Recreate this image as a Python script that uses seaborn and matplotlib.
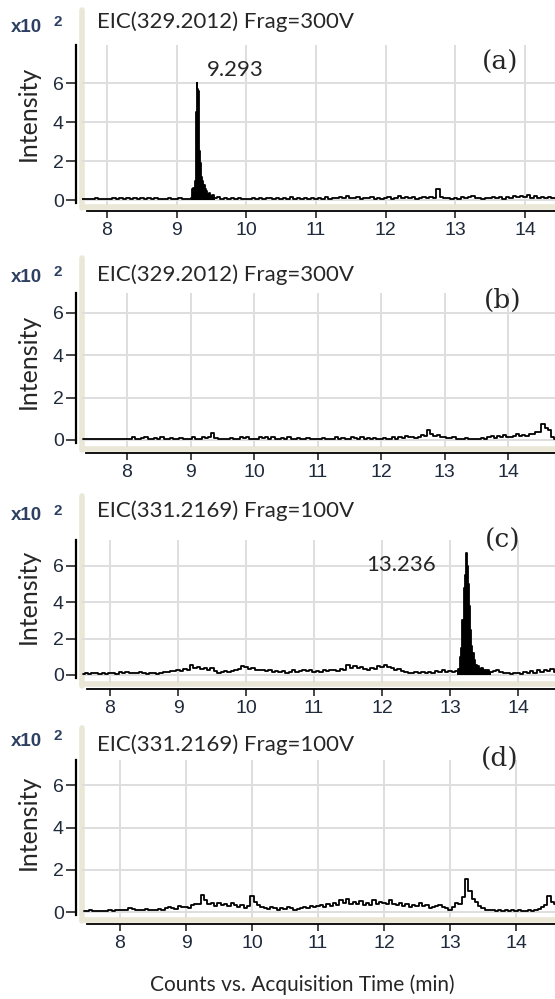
import numpy as np
import pandas as pd
import matplotlib
matplotlib.use("Agg")
import matplotlib.pyplot as plt
import seaborn as sns

# EIC traces, intensity in x10^2 counts, sampled every 0.05 min from the start time
start_a = 7.60
base_a = [0.04, 0.05, 0.03, 0.05, 0.04, 0.12, 0.04, 0.03,
          0.04, 0.03, 0.08, 0.05, 0.11, 0.06, 0.12, 0.05, 0.09, 0.05, 0.11, 0.06, 0.09, 0.04, 0.12, 0.05, 0.07, 0.04, 0.09, 0.05,
          0.04, 0.09, 0.05, 0.04, 0.07, 0.50, 5.80, 0.90, 0.50, 0.35, 0.22, 0.12, 0.16, 0.07, 0.11, 0.05, 0.09, 0.04, 0.08, 0.05,
          0.06, 0.04, 0.10, 0.05, 0.12, 0.04, 0.08, 0.12, 0.05, 0.09, 0.04, 0.10, 0.06, 0.13, 0.05, 0.08, 0.04, 0.11, 0.06, 0.09,
          0.05, 0.10, 0.07, 0.14, 0.05, 0.11, 0.08, 0.16, 0.10, 0.18, 0.12, 0.08, 0.15, 0.06, 0.12, 0.09, 0.17, 0.07, 0.10, 0.05,
          0.09, 0.14, 0.06, 0.12, 0.18, 0.10, 0.15, 0.08, 0.13, 0.07, 0.11, 0.15, 0.10, 0.17, 0.12, 0.58, 0.14, 0.08, 0.12, 0.06,
          0.10, 0.07, 0.14, 0.09, 0.13, 0.18, 0.08, 0.12, 0.06, 0.10, 0.08, 0.15, 0.09, 0.13, 0.07, 0.16, 0.11, 0.19, 0.14, 0.22,
          0.15, 0.24, 0.12, 0.19, 0.10, 0.17, 0.08, 0.14, 0.09, 0.12]
peak_t_a = [9.20, 9.22, 9.23, 9.25, 9.27, 9.28, 9.29, 9.30, 9.31, 9.32, 9.33, 9.34, 9.35, 9.37, 9.39, 9.41, 9.43, 9.45, 9.47, 9.49, 9.52, 9.55]
peak_i_a = [0.06, 0.10, 0.55, 0.60, 1.00, 4.50, 6.00, 5.70, 5.60, 2.60, 2.50, 1.90, 1.20, 0.95, 0.75, 0.55, 0.45, 0.30, 0.35, 0.20, 0.25, 0.12]

start_b = 7.30
base_b = [0.03, 0.05, 0.04, 0.03, 0.06, 0.04, 0.05, 0.03, 0.04, 0.06, 0.03, 0.05, 0.04, 0.03,
          0.05, 0.04, 0.12, 0.04, 0.03, 0.08, 0.13, 0.05, 0.04, 0.10, 0.06, 0.12, 0.05, 0.04, 0.09, 0.05, 0.03, 0.11, 0.06, 0.04,
          0.05, 0.12, 0.04, 0.06, 0.13, 0.08, 0.14, 0.35, 0.08, 0.04, 0.06, 0.03, 0.05, 0.11, 0.05, 0.04, 0.15, 0.08, 0.12, 0.06,
          0.05, 0.04, 0.14, 0.10, 0.16, 0.06, 0.12, 0.05, 0.04, 0.10, 0.06, 0.13, 0.05, 0.04, 0.08, 0.05, 0.03, 0.10, 0.06, 0.05,
          0.06, 0.05, 0.10, 0.04, 0.03, 0.06, 0.13, 0.05, 0.08, 0.06, 0.04, 0.15, 0.10, 0.06, 0.12, 0.05, 0.08, 0.04, 0.11, 0.06,
          0.05, 0.10, 0.06, 0.04, 0.12, 0.07, 0.15, 0.09, 0.18, 0.12, 0.16, 0.10, 0.14, 0.25, 0.20, 0.48, 0.28, 0.20, 0.25, 0.12,
          0.15, 0.08, 0.10, 0.12, 0.05, 0.06, 0.04, 0.08, 0.05, 0.04, 0.06, 0.03, 0.10, 0.06, 0.12, 0.18, 0.10, 0.20, 0.14, 0.22,
          0.16, 0.12, 0.20, 0.26, 0.18, 0.25, 0.20, 0.30, 0.28, 0.40, 0.38, 0.75, 0.55, 0.45, 0.15, 0.05]
peak_t_b = []
peak_i_b = []

start_c = 7.60
base_c = [0.08, 0.10, 0.06, 0.12, 0.09, 0.07, 0.11, 0.08,
          0.10, 0.13, 0.08, 0.15, 0.10, 0.14, 0.12, 0.09, 0.13, 0.18, 0.11, 0.08, 0.12, 0.10, 0.07, 0.12, 0.18, 0.14, 0.22, 0.20,
          0.25, 0.20, 0.32, 0.28, 0.55, 0.40, 0.45, 0.35, 0.40, 0.30, 0.38, 0.20, 0.12, 0.18, 0.22, 0.15, 0.20, 0.28, 0.35, 0.50,
          0.45, 0.35, 0.40, 0.30, 0.25, 0.30, 0.20, 0.28, 0.18, 0.22, 0.15, 0.20, 0.12, 0.18, 0.25, 0.15, 0.22, 0.30, 0.20, 0.25,
          0.18, 0.22, 0.15, 0.28, 0.20, 0.30, 0.25, 0.22, 0.35, 0.28, 0.55, 0.40, 0.50, 0.38, 0.45, 0.32, 0.28, 0.40, 0.35, 0.50,
          0.42, 0.55, 0.45, 0.38, 0.30, 0.35, 0.20, 0.15, 0.12, 0.10, 0.15, 0.12, 0.18, 0.10, 0.15, 0.12, 0.20, 0.15, 0.25, 0.18,
          0.20, 0.15, 0.22, 0.18, 0.25, 0.20, 0.50, 0.50, 0.50, 0.50, 0.50, 0.50, 0.25, 0.22, 0.28, 0.15, 0.12, 0.10, 0.08, 0.12,
          0.10, 0.08, 0.15, 0.10, 0.20, 0.12, 0.25, 0.18, 0.30, 0.22, 0.35, 0.15]
peak_t_c = [13.10, 13.13, 13.15, 13.17, 13.19, 13.21, 13.22, 13.24, 13.25, 13.27, 13.28, 13.30, 13.32, 13.34, 13.36, 13.38,
            13.41, 13.44, 13.47, 13.50, 13.55, 13.60]
peak_i_c = [0.20, 0.35, 1.00, 1.50, 3.00, 4.80, 5.50, 6.70, 6.00, 5.00, 3.80, 2.50, 1.60, 1.20, 0.80, 0.55,
            0.50, 0.35, 0.40, 0.25, 0.30, 0.18]

start_d = 7.45
base_d = [0.06, 0.05, 0.08, 0.06, 0.05, 0.07, 0.06, 0.05, 0.08, 0.06, 0.10,
          0.10, 0.12, 0.10, 0.18, 0.15, 0.12, 0.10, 0.08, 0.15, 0.10, 0.12, 0.08, 0.15, 0.10, 0.18, 0.25, 0.20, 0.15, 0.28, 0.22,
          0.25, 0.20, 0.32, 0.38, 0.40, 0.80, 0.55, 0.38, 0.42, 0.30, 0.45, 0.35, 0.40, 0.30, 0.42, 0.32, 0.25, 0.35, 0.20, 0.30,
          0.75, 0.50, 0.35, 0.25, 0.20, 0.15, 0.22, 0.18, 0.12, 0.20, 0.15, 0.25, 0.18, 0.12, 0.15, 0.20, 0.25, 0.18, 0.30, 0.22,
          0.28, 0.35, 0.25, 0.40, 0.30, 0.45, 0.35, 0.55, 0.42, 0.60, 0.38, 0.48, 0.40, 0.52, 0.35, 0.45, 0.32, 0.55, 0.40, 0.50,
          0.45, 0.38, 0.55, 0.40, 0.35, 0.45, 0.30, 0.40, 0.25, 0.35, 0.30, 0.42, 0.28, 0.35, 0.20, 0.25, 0.30, 0.35, 0.25, 0.18,
          0.10, 0.25, 0.45, 0.40, 0.70, 1.55, 1.00, 0.60, 0.50, 0.30, 0.20, 0.12, 0.08, 0.10, 0.06, 0.08, 0.05, 0.10, 0.06, 0.08,
          0.05, 0.08, 0.06, 0.05, 0.10, 0.06, 0.08, 0.15, 0.25, 0.35, 0.75, 0.50, 0.40]
peak_t_d = []
peak_i_d = []

titles = ["EIC(329.2012) Frag=300V", "EIC(329.2012) Frag=300V",
          "EIC(331.2169) Frag=100V", "EIC(331.2169) Frag=100V"]
tags = ["(a)", "(b)", "(c)", "(d)"]
peak_labels = ["9.293", "", "13.236", ""]
x_ticks = [8, 9, 10, 11, 12, 13, 14]
y_ticks = [0, 2, 4, 6]


def make_trace(start, base, pt, pi):
    t = start + 0.05 * np.arange(len(base))
    v = np.array(base)
    if len(pt):
        keep = (t < min(pt)) | (t > max(pt))
        t = np.r_[t[keep], pt]
        v = np.r_[v[keep], pi]
    return pd.DataFrame({"time": t, "intensity": v}).sort_values("time")


sns.set_style("whitegrid", {"grid.color": "#dedede", "axes.edgecolor": "black"})
plt.rcParams["font.family"] = ["Lato", "DejaVu Sans"]

W, H = 555, 999
fig = plt.figure(figsize=(W / 100, H / 100), dpi=100)

# axes boxes in pixels: (top, bottom), plus x/y limits per panel
boxes = [(45, 205), (293, 447), (540, 683), (760, 918)]
xlims = [(7.641, 14.43), (7.291, 14.74), (7.588, 14.544), (7.424, 14.59)]
ylims = [(-0.256, 7.95), (-0.33, 6.93), (-0.44, 7.42), (-0.28, 7.2)]
beige_ext = [0.22, 0.23, 0.31, 0.2]
title_y = [22, 275, 511, 745]
x10_y = [27, 277, 516, 741]
tag_pos = [(500, 62), (503, 300), (503, 540), (500, 758)]
ylab_y = [113, 361, 596, 822]

traces = [make_trace(start_a, base_a, peak_t_a, peak_i_a),
          make_trace(start_b, base_b, peak_t_b, peak_i_b),
          make_trace(start_c, base_c, peak_t_c, peak_i_c),
          make_trace(start_d, base_d, peak_t_d, peak_i_d)]
peaks = [(peak_t_a, peak_i_a), (peak_t_b, peak_i_b), (peak_t_c, peak_i_c), (peak_t_d, peak_i_d)]

left = 82
tick_col = "#1f2a3c"
for k in range(4):
    top, bot = boxes[k]
    ax = fig.add_axes([left / W, 1 - bot / H, (W - left) / W, (bot - top) / H])
    df = traces[k]
    sns.lineplot(data=df, x="time", y="intensity", ax=ax, color="black", lw=1.3,
                 drawstyle="steps-mid", estimator=None)
    pt, pi = peaks[k]
    if len(pt):
        ax.fill_between(pt, pi, 0, step="mid", color="black", lw=0)
    ax.set_xlim(*xlims[k])
    ax.set_ylim(*ylims[k])
    ax.set_xticks(x_ticks)
    ax.set_yticks(y_ticks)
    ax.set_xlabel("")
    ax.set_ylabel("")
    ax.grid(True, color="#dedede", lw=1.4)
    for s in ["top", "right"]:
        ax.spines[s].set_visible(False)
    ax.spines["left"].set_position(("outward", 4))
    ax.spines["left"].set_bounds(-0.15, ylims[k][1])
    ax.spines["left"].set_linewidth(1.6)
    ax.spines["bottom"].set_position(("outward", 4))
    ax.spines["bottom"].set_bounds(xlims[k][0] + 0.07, xlims[k][1])
    ax.spines["bottom"].set_linewidth(1.3)
    ax.tick_params(axis="y", direction="out", length=7, width=1.2, pad=2,
                   labelsize=14, labelcolor=tick_col, left=True)
    ax.tick_params(axis="x", direction="out", length=5, width=1.2, pad=3,
                   labelsize=14, labelcolor=tick_col, bottom=True)
    for lab in ax.get_xticklabels() + ax.get_yticklabels():
        lab.set_family("Liberation Sans")
    # beige frame band of the original software plot
    ax.plot([0, 0], [-0.02, 1 + beige_ext[k]], transform=ax.transAxes, clip_on=False,
            color="#ebe7d6", lw=4, zorder=0)
    ax.plot([0, 1], [-0.01, -0.01], transform=ax.transAxes, clip_on=False,
            color="#ebe7d6", lw=4, zorder=0)
    if peak_labels[k]:
        i_max = int(np.argmax(pi))
        if k == 0:
            ax.annotate(peak_labels[k], xy=(pt[i_max], pi[i_max]), xytext=(10, 13),
                        textcoords="offset pixels", ha="left", va="center", fontsize=16)
        else:
            ax.annotate(peak_labels[k], xy=(pt[i_max], pi[i_max]), xytext=(-30, -12),
                        textcoords="offset pixels", ha="right", va="center", fontsize=16)

    fig.text(97 / W, 1 - title_y[k] / H, titles[k], fontsize=16, va="center", ha="left")
    fig.text(11 / W, 1 - x10_y[k] / H, "x10", fontsize=13.5, va="center", ha="left",
             color="#2d3f63", family="Liberation Sans", weight="bold")
    fig.text(53 / W, 1 - (x10_y[k] - 5) / H, "2", fontsize=11, va="center", ha="left",
             color="#2d3f63", family="Liberation Sans", weight="bold")
    fig.text(tag_pos[k][0] / W, 1 - tag_pos[k][1] / H, tags[k], fontsize=19,
             va="center", ha="center", family="DejaVu Serif")
    fig.text(28 / W, 1 - ylab_y[k] / H, "Intensity", fontsize=18, rotation=90,
             va="center", ha="center")

fig.text(302 / W, 1 - 985 / H, "Counts vs. Acquisition Time (min)", fontsize=15,
         ha="center", va="center")

fig.savefig("out.png", dpi=100)
